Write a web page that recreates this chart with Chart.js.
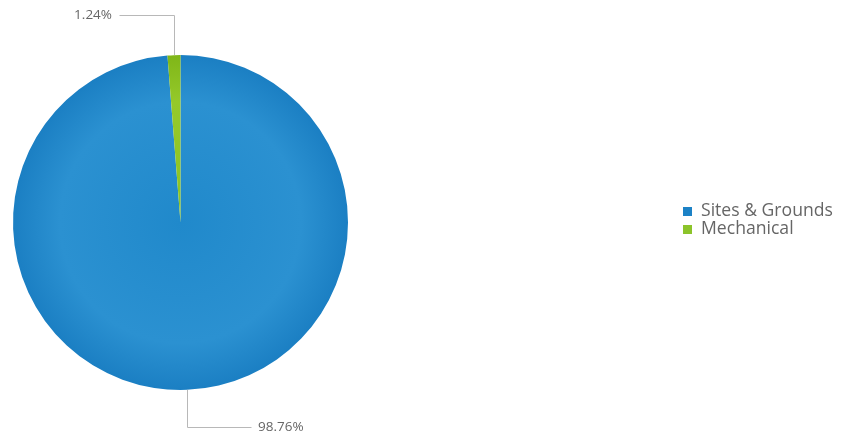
<!DOCTYPE html>
<html>
<head>
<meta charset="utf-8">
<script src="https://cdn.jsdelivr.net/npm/chart.js@4"></script>
<style>
html,body{margin:0;padding:0;background:#fff;}
#wrap{width:843px;height:435px;position:relative;}
</style>
</head>
<body>
<div id="wrap"><canvas id="c" width="843" height="435"></canvas></div>
<script>
const categories = ["Sites & Grounds", "Mechanical"];
const values = [98.76, 1.24];
const pctLabels = ["98.76%", "1.24%"];
const baseColors = [["#2b91d1", "#2089cb", "#1b7fc3"], ["#95c92a", "#8cc322", "#7fb618"]];
const flatColors = ["#1c82c6", "#8cc42a"];

function grad(ctx, i) {
  const chart = ctx.chart;
  const a = chart.chartArea;
  if (!a) return flatColors[i];
  const cx = (a.left + a.right) / 2, cy = (a.top + a.bottom) / 2;
  const r = Math.min(a.right - a.left, a.bottom - a.top) / 2;
  const g = chart.ctx.createRadialGradient(cx, cy, 0, cx, cy, r);
  const c = baseColors[i];
  g.addColorStop(0, c[1]);
  g.addColorStop(0.72, c[0]);
  g.addColorStop(1, c[2]);
  return g;
}

const leaderPlugin = {
  id: 'leaders',
  afterDraw(chart) {
    const ctx = chart.ctx;
    const meta = chart.getDatasetMeta(0);
    ctx.save();
    meta.data.forEach((arc, i) => {
      const p = arc.getProps(['x', 'y', 'startAngle', 'endAngle', 'outerRadius'], true);
      const mid = (p.startAngle + p.endAngle) / 2;
      const ex = p.x + Math.cos(mid) * p.outerRadius;
      const ey = p.y + Math.sin(mid) * p.outerRadius;
      const up = Math.sin(mid) < 0;
      const left = Math.cos(mid) < 0;
      const ey2 = up ? ey - 40 : ey + 37;
      const ex2 = left ? ex - 55 : ex + 64;
      ctx.strokeStyle = '#b8b8b8';
      ctx.lineWidth = 1;
      ctx.beginPath();
      ctx.moveTo(Math.round(ex) + 0.5, ey);
      ctx.lineTo(Math.round(ex) + 0.5, Math.round(ey2) + 0.5);
      ctx.lineTo(Math.round(ex2) + 0.5, Math.round(ey2) + 0.5);
      ctx.stroke();
      ctx.fillStyle = '#666666';
      ctx.font = '13.5px "Open Sans"';
      ctx.textBaseline = 'middle';
      ctx.textAlign = left ? 'right' : 'left';
      ctx.fillText(pctLabels[i], left ? ex2 - 7 : ex2 + 7, ey2);
    });
    // legend
    ctx.font = '17.6px "Open Sans"';
    ctx.textAlign = 'left';
    ctx.textBaseline = 'middle';
    categories.forEach((lab, i) => {
      const y = 211 + i * 18;
      ctx.fillStyle = flatColors[i];
      ctx.fillRect(683, y - 4, 9, 9);
      ctx.fillStyle = '#666666';
      ctx.fillText(lab, 701, y);
    });
    ctx.restore();
  }
};

new Chart(document.getElementById('c'), {
  type: 'pie',
  data: {
    labels: categories,
    datasets: [{
      data: values,
      backgroundColor: (ctx) => grad(ctx, ctx.dataIndex),
      borderWidth: 0
    }]
  },
  options: {
    responsive: false,
    animation: false,
    layout: { padding: { top: 55, bottom: 45, left: 13, right: 495 } },
    plugins: { legend: { display: false }, tooltip: { enabled: false } }
  },
  plugins: [leaderPlugin]
});
</script>
</body>
</html>
